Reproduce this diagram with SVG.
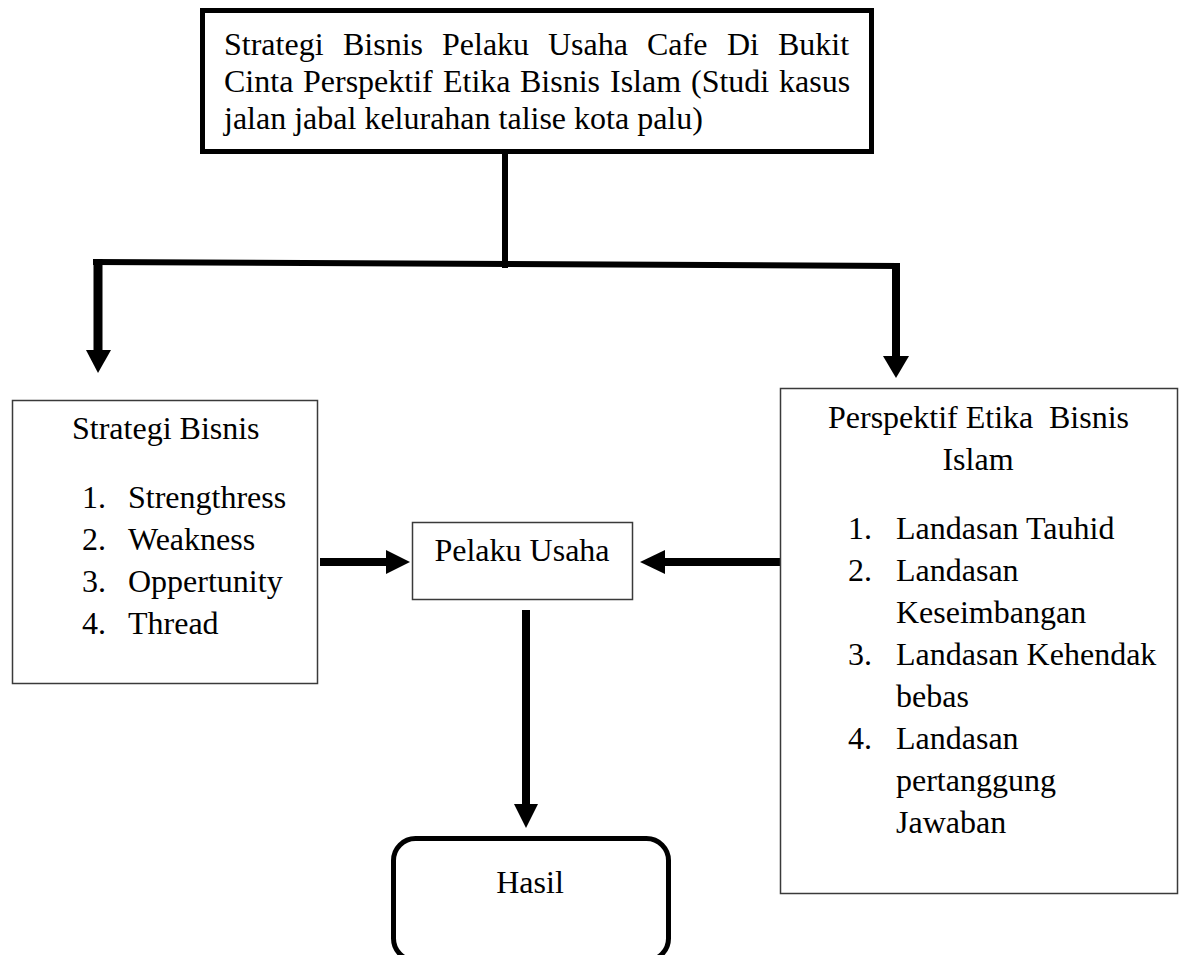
<svg xmlns="http://www.w3.org/2000/svg" width="1180" height="955" viewBox="0 0 1180 955">
<style>
text{font-family:"Liberation Serif","Times New Roman",serif;font-size:32px;fill:#000}
.thin{fill:#fff;stroke:#3a3a3a;stroke-width:1.5}
.bold{fill:#fff;stroke:#000;stroke-width:5}
.ln{stroke:#000;fill:none}
.hd{fill:#000}
</style>
<rect width="1180" height="955" fill="#fff"/>
<g id="connectors">
<line class="ln" x1="505" y1="154" x2="505" y2="268" stroke-width="6"/>
<line class="ln" x1="93" y1="262" x2="900" y2="266" stroke-width="6"/>
<line class="ln" x1="98" y1="259" x2="98" y2="352" stroke-width="9"/>
<polygon class="hd" points="86,350 111,350 98,373"/>
<line class="ln" x1="896" y1="263" x2="896" y2="358" stroke-width="8"/>
<polygon class="hd" points="883,356 909,356 896,378"/>
<line class="ln" x1="320" y1="562" x2="388" y2="562" stroke-width="8"/>
<polygon class="hd" points="386,550 410,562 386,574"/>
<line class="ln" x1="780" y1="562" x2="662" y2="562" stroke-width="8"/>
<polygon class="hd" points="665,550 640,562 665,574"/>
<line class="ln" x1="526" y1="610" x2="526" y2="806" stroke-width="8"/>
<polygon class="hd" points="514,804 538,804 526,828"/>
</g>
<g id="node-title">
<rect class="bold" x="202.5" y="10.5" width="669" height="141"/>
<text y="55"><tspan x="224">Strategi</tspan><tspan x="343">Bisnis</tspan><tspan x="442">Pelaku</tspan><tspan x="548">Usaha</tspan><tspan x="647">Cafe</tspan><tspan x="727">Di</tspan><tspan x="778">Bukit</tspan></text>
<text y="92"><tspan x="224">Cinta</tspan><tspan x="303">Perspektif</tspan><tspan x="443">Etika</tspan><tspan x="520">Bisnis</tspan><tspan x="610">Islam</tspan><tspan x="691">(Studi</tspan><tspan x="779">kasus</tspan></text>
<text x="224" y="129">jalan jabal kelurahan talise kota palu)</text>
</g>
<g id="node-strategi">
<rect class="thin" x="12.5" y="400.5" width="305" height="283"/>
<text x="72" y="439">Strategi Bisnis</text>
<text x="82" y="508">1.</text><text x="128" y="508">Strengthress</text>
<text x="82" y="550">2.</text><text x="128" y="550">Weakness</text>
<text x="82" y="592">3.</text><text x="128" y="592">Oppertunity</text>
<text x="82" y="634">4.</text><text x="128" y="634">Thread</text>
</g>
<g id="node-pelaku">
<rect class="thin" x="412.5" y="522.5" width="220" height="77"/>
<text x="522" y="561" text-anchor="middle">Pelaku Usaha</text>
</g>
<g id="node-etika">
<rect class="thin" x="780.5" y="388.5" width="397" height="505"/>
<text y="428"><tspan x="828">Perspektif Etika</tspan><tspan x="1049">Bisnis</tspan></text>
<text x="978" y="470" text-anchor="middle">Islam</text>
<text x="848" y="539">1.</text><text x="896" y="539">Landasan Tauhid</text>
<text x="848" y="581">2.</text><text x="896" y="581">Landasan</text>
<text x="896" y="623">Keseimbangan</text>
<text x="848" y="665">3.</text><text x="896" y="665">Landasan Kehendak</text>
<text x="896" y="707">bebas</text>
<text x="848" y="749">4.</text><text x="896" y="749">Landasan</text>
<text x="896" y="791">pertanggung</text>
<text x="896" y="833">Jawaban</text>
</g>
<g id="node-hasil">
<rect class="bold" x="393.5" y="838.5" width="275" height="122" rx="22"/>
<text x="530" y="893" text-anchor="middle">Hasil</text>
</g>
</svg>
